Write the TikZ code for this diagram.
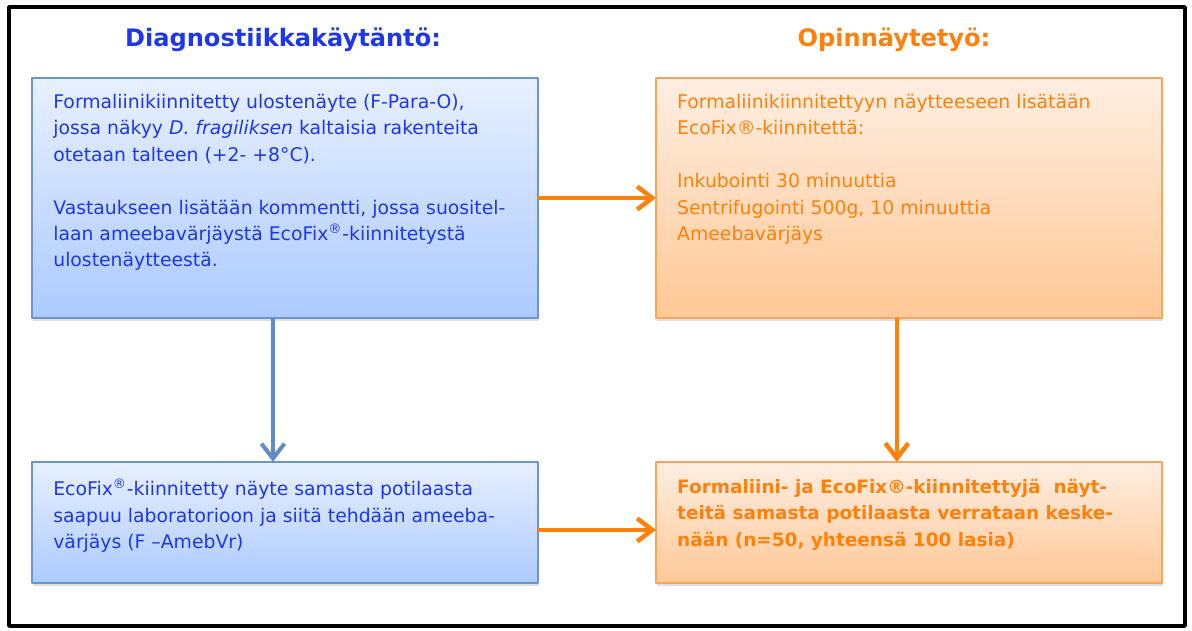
\documentclass[tikz,border=0pt]{standalone}
\usepackage{fontspec}
\setmainfont{DejaVu Sans}
\usepackage{xcolor}
\usetikzlibrary{arrows.meta,positioning,shadows}

\definecolor{diagblue}{RGB}{30,55,235}
\definecolor{thesisorange}{RGB}{255,128,10}
\definecolor{blueedge}{RGB}{105,150,205}
\definecolor{bluetop}{RGB}{232,240,255}
\definecolor{bluebottom}{RGB}{172,202,255}
\definecolor{orangeedge}{RGB}{250,165,90}
\definecolor{orangetop}{RGB}{255,238,226}
\definecolor{orangebottom}{RGB}{255,200,150}
\definecolor{bluearrow}{RGB}{95,140,200}

\tikzset{
  panel/.style={line width=0.03cm, minimum width=10.12cm, inner sep=0pt, outer sep=0pt,
    drop shadow={opacity=0.25, shadow xshift=0.6pt, shadow yshift=-1.5pt}},
  bluepanel/.style={panel, draw=blueedge, top color=bluetop, bottom color=bluebottom},
  orangepanel/.style={panel, draw=orangeedge, top color=orangetop, bottom color=orangebottom},
  paneltext/.style={anchor=north west, align=left, inner sep=0pt, font=\fontsize{10.7}{15}\selectfont},
  heading/.style={anchor=base, font=\bfseries\fontsize{13.7}{17}\selectfont},
  bluelink/.style={draw=bluearrow, line width=0.08cm, -{Straight Barb[length=0.3cm,width=0.46cm]}},
  orangelink/.style={draw=thesisorange, line width=0.09cm, -{Straight Barb[length=0.3cm,width=0.46cm]}}
}

\begin{document}
\begin{tikzpicture}[x=0.02cm, y=-0.02cm, line join=round]

  \useasboundingbox (0,0) rectangle (1192,630);

  % frame
  \draw[line width=0.07cm] (9,7) rectangle (1185,626);

  % headings
  \node[heading, text=diagblue] (diaghead) at (283,46) {Diagnostiikkakäytäntö:};
  \node[heading, text=thesisorange] (thesishead) at (894,46) {Opinnäytetyö:};

  % panels
  \node[bluepanel, minimum height=4.8cm, anchor=north west] (fpara) at (32,78) {};
  \node[orangepanel, minimum height=4.8cm, right=2.36cm of fpara] (ecofix) {};
  \node[bluepanel, minimum height=2.42cm, below=2.88cm of fpara] (amebvr) {};
  \node[orangepanel, minimum height=2.42cm, right=2.36cm of amebvr] (compare) {};

  % panel texts
  \node[paneltext, text=diagblue] (fparatext) at ([xshift=0.42cm, yshift=-0.32cm]fpara.north west)
    {Formaliinikiinnitetty ulostenäyte (F-Para-O),\\
     jossa näkyy \textit{D. fragiliksen} kaltaisia rakenteita\\
     otetaan talteen (+2- +8°C).\\[15pt]
     Vastaukseen lisätään kommentti, jossa suositel-\\
     laan ameebavärjäystä EcoFix\textsuperscript{®}-kiinnitetystä\\
     ulostenäytteestä.};
  \node[paneltext, text=thesisorange] (ecofixtext) at ([xshift=0.42cm, yshift=-0.32cm]ecofix.north west)
    {Formaliinikiinnitettyyn näytteeseen lisätään\\
     EcoFix®-kiinnitettä:\\[15pt]
     Inkubointi 30 minuuttia\\
     Sentrifugointi 500g, 10 minuuttia\\
     Ameebavärjäys};
  \node[paneltext, text=diagblue] (amebvrtext) at ([xshift=0.42cm, yshift=-0.34cm]amebvr.north west)
    {EcoFix\textsuperscript{®}-kiinnitetty näyte samasta potilaasta\\
     saapuu laboratorioon ja siitä tehdään ameeba-\\
     värjäys (F –AmebVr)};
  \node[paneltext, text=thesisorange, font=\bfseries\fontsize{10.5}{15}\selectfont] (comparetext)
    at ([xshift=0.42cm, yshift=-0.34cm]compare.north west)
    {Formaliini- ja EcoFix®-kiinnitettyjä\ \ näyt-\\
     teitä samasta potilaasta verrataan keske-\\
     nään (n=50, yhteensä 100 lasia)};

  % arrows
  \draw[bluelink] ([xshift=-0.24cm]fpara.south) -- ([xshift=-0.24cm]amebvr.north);
  \draw[orangelink] (fpara.east) -- (ecofix.west);
  \draw[orangelink] ([xshift=-0.24cm]ecofix.south) -- ([xshift=-0.24cm]compare.north);
  \draw[orangelink] ([yshift=-0.15cm]amebvr.east) -- ([yshift=-0.15cm]compare.west);

\end{tikzpicture}
\end{document}
